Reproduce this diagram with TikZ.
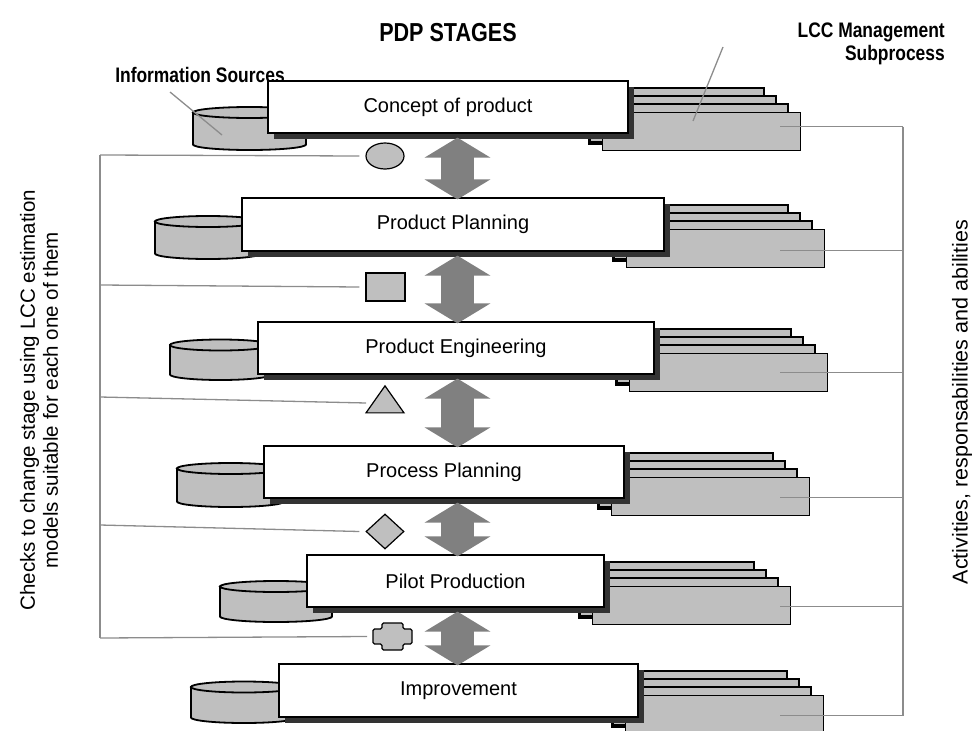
\documentclass[tikz,border=0pt]{standalone}
\usepackage{fontspec}
\setmainfont{Liberation Sans}
\newfontfamily\narrowfont[FakeStretch=0.83]{Liberation Sans}
\usetikzlibrary{arrows.meta,positioning,shapes.geometric,shadows,calc}

\begin{document}
\begin{tikzpicture}[
  x=1pt, y=-1pt,
  every node/.style={inner sep=0pt},
  stage/.style={draw, line width=1.2pt, fill=white, minimum height=52pt,
    font=\fontsize{20}{24}\selectfont,
    drop shadow={shadow xshift=6pt, shadow yshift=-6pt, fill=black!80, opacity=1}},
  page/.style={draw, line width=1.2pt, fill=gray!50},
  srcdb/.style={draw, line width=1.8pt, fill=gray!50},
  chk/.style={draw, line width=1.2pt, fill=gray!50},
  link/.style={draw=black!45, line width=1.3pt},
  bigarrow/.style={draw=gray, line width=33pt,
    {Triangle[width=65pt,length=20pt]}-{Triangle[width=65pt,length=20pt]}},
  head/.style={font=\narrowfont\bfseries\fontsize{21}{23}\selectfont},
  side/.style={font=\fontsize{20.5}{23}\selectfont, rotate=90, align=center}
]
\useasboundingbox (0,0) rectangle (975,731);

% titles
\node[font=\narrowfont\bfseries\fontsize{26}{30}\selectfont] (title) at (448,33) {PDP STAGES};
\node[head] (info) at (200,75) {Information Sources};
\node[head, align=right, anchor=east] (lcc) at (945,44) {LCC Management\\Subprocess};
\node[side] (checks) at (39,400) {Checks to change stage using LCC estimation\\models suitable for each one of them};
\node[side, font=\fontsize{21.5}{24}\selectfont] (roles) at (962,402) {Activities, responsabilities and abilities};

% LCC documents behind each stage
\foreach \n/\mx/\my in {1/602/112, 2/626/229, 3/629/353, 4/611/477, 5/592/586, 6/625/695} {
  \draw[page] (\mx-13,\my-6) rectangle ++(198,38);
  \foreach \k in {3,2,1}
    \draw[page] (\mx-12*\k,\my-8*\k) rectangle ++(198,38);
  \node[page, anchor=north west, minimum width=198pt, minimum height=38pt] (doc\n) at (\mx,\my) {};
}

% information sources (cylinders)
\foreach \n/\l/\r/\t/\b in {1/193/306/112.5/144.5, 2/155/261/221.5/253.5, 3/170/271/345/374.5,
                            4/177/284/468.5/501.5, 5/220/332/586.5/616.5, 6/191/297/687/717.5} {
  \pgfmathsetmacro\rx{(\r-\l)/2}
  \draw[srcdb] (\l,\t) -- (\l,\b) arc[start angle=180, end angle=0, x radius=\rx, y radius=5.5]
    -- (\r,\t) -- cycle;
  \draw[srcdb] (\l+\rx,\t) ellipse[x radius=\rx, y radius=5.5];
}

% PDP stages
\node[stage, minimum width=360pt] (s1) at (448,107) {Concept of product};
\node[stage, minimum width=422pt, minimum height=53pt] (s2) at (453,224.5) {Product Planning};
\node[stage, minimum width=396pt] (s3) at (456,348) {Product Engineering};
\node[stage, minimum width=360pt] (s4) at (444,472) {Process Planning};
\node[stage, minimum width=297pt] (s5) at (455.5,581) {Pilot Production};
\node[stage, minimum width=359pt, minimum height=53pt] (s6) at (458.5,690.5) {Improvement};

% transitions
\coordinate (ax) at (457.5,0);
\foreach \a/\b in {1/2,2/3,3/4,4/5,5/6}
  \draw[bigarrow] ($(s\a.south -| ax)+(0,4)$) -- ($(s\b.north -| ax)+(0,2)$);

% checks
\node[chk, ellipse, minimum width=38pt, minimum height=26pt] (c1) at (385,156) {};
\node[chk, minimum width=39pt, minimum height=28pt] (c2) at (385.5,287) {};
\node[chk, isosceles triangle, shape border rotate=90, isosceles triangle apex angle=70,
      isosceles triangle stretches, minimum width=38pt, minimum height=27pt] (c3) at (385,403) {};
\node[chk, diamond, minimum width=38pt, minimum height=35pt] (c4) at (385,531.5) {};
\draw[chk, rounded corners=1.5pt] (382,623) -- (403,623) -- (403,629) -- (412,629) -- (412,644)
  -- (403,644) -- (403,650) -- (382,650) -- (382,644) -- (373,644) -- (373,629) -- (382,629) -- cycle;
\coordinate (c5) at (373,636.5);

% left bracket
\coordinate (lb1) at (100,155);
\coordinate (lb2) at (100,285);
\coordinate (lb3) at (100,397);
\coordinate (lb4) at (100,525);
\coordinate (lb5) at (100,638);
\draw[link] (lb1) -- (lb5);
\draw[link] (lb1) -- ([xshift=-6pt]c1.west);
\draw[link] (lb2) -- ([xshift=-6pt]c2.west);
\draw[link] (lb3) -- ([xshift=-6pt]c3.west);
\draw[link] (lb4) -- ([xshift=-6pt]c4.west);
\draw[link] (lb5) -- ([xshift=-6pt]c5);

% right bracket
\coordinate (dl) at (780,0);
\coordinate (rb) at (903,0);
\foreach \n/\dy in {1/-5,2/2,3/0,4/1,5/1,6/1}
  \draw[link] ($(doc\n.center -| dl)+(0,\dy)$) -- ($(doc\n.center -| rb)+(0,\dy)$);
\draw[link] ($(doc1.center -| rb)+(0,-5)$) -- ($(doc6.center -| rb)+(0,1)$);

% pointers
\coordinate (infoTip) at (170,92);
\coordinate (srcPt) at (222,135);
\coordinate (lccTip) at (723,47);
\coordinate (docPt) at (693,121);
\draw[link] (infoTip) -- (srcPt);
\draw[link] (lccTip) -- (docPt);
\end{tikzpicture}
\end{document}
